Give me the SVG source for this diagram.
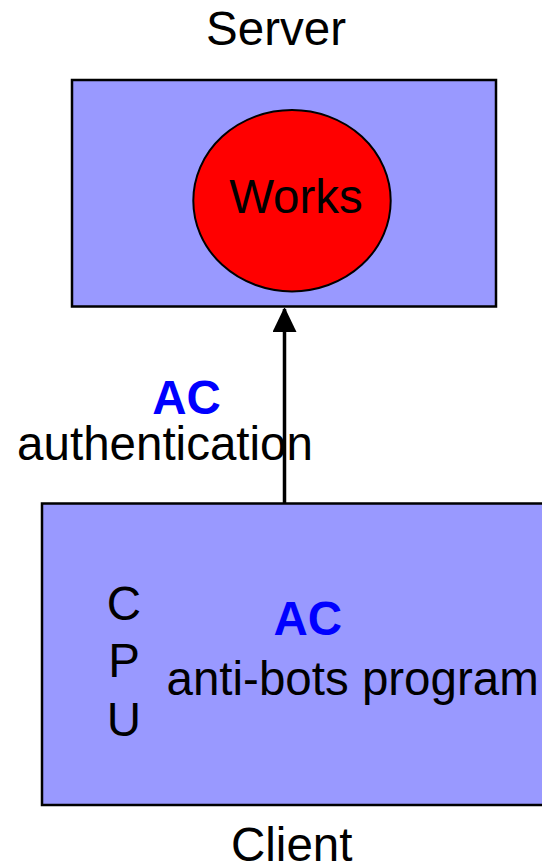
<svg xmlns="http://www.w3.org/2000/svg" width="542" height="865" viewBox="0 0 542 865">
<style>
text { font-family: "Liberation Sans", Arial, sans-serif; font-size: 47.5px; fill: #000; }
.ac { font-weight: bold; fill: #0000ff; }
.box { fill: #9999ff; stroke: #000; stroke-width: 2.5; }
</style>
<defs>
<marker id="arrow" markerUnits="userSpaceOnUse" markerWidth="24" markerHeight="27" refX="23" refY="12" orient="auto">
<path d="M0,0 L25,12 L0,24 Z" fill="#000"/>
</marker>
</defs>
<rect width="542" height="865" fill="#fff"/>
<g id="server">
<rect class="box" x="72" y="80" width="424" height="226.5"/>
<text x="276" y="45" text-anchor="middle">Server</text>
</g>
<g id="works">
<ellipse cx="292" cy="200.7" rx="98.7" ry="90.7" fill="#ff0000" stroke="#000" stroke-width="2"/>
<text x="296" y="212.7" text-anchor="middle">Works</text>
</g>
<g id="client">
<rect class="box" x="42" y="503.5" width="520" height="301.5"/>
<text x="124" y="620" text-anchor="middle">C</text>
<text x="124" y="677.3" text-anchor="middle">P</text>
<text x="124" y="736" text-anchor="middle">U</text>
<text class="ac" x="307.7" y="635" text-anchor="middle">AC</text>
<text x="166.5" y="695">anti-bots program</text>
<text x="291.7" y="860.5" text-anchor="middle">Client</text>
</g>
<g id="connectors">
<line x1="284.5" y1="503" x2="284.5" y2="309" stroke="#000" stroke-width="3.5" marker-end="url(#arrow)"/>
<text class="ac" x="186.5" y="414" text-anchor="middle">AC</text>
<text x="165" y="459.7" text-anchor="middle">authentication</text>
</g>
</svg>
